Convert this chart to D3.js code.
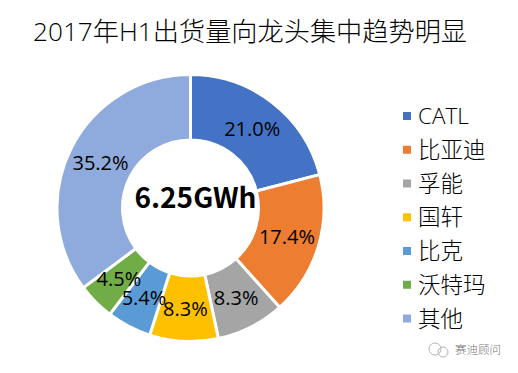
<!DOCTYPE html>
<html lang="zh">
<head>
<meta charset="UTF-8">
<title>2017年H1出货量向龙头集中趋势明显</title>
<script src="https://d3js.org/d3.v7.min.js"></script>
<style>
    body { margin: 0; background: #fff; overflow: hidden; }
    text { font-family: "Open Sans", "Noto Sans CJK SC", sans-serif; font-weight: 300; fill: #000; }
</style>
</head>
<body>
<svg id="chart" width="518" height="373"></svg>
<script>
const chartTitle = "2017年H1出货量向龙头集中趋势明显";
const centerLabel = "6.25GWh";
const categories = ["CATL", "比亚迪", "孚能", "国轩", "比克", "沃特玛", "其他"];
const shares = [21.0, 17.4, 8.3, 8.3, 5.4, 4.5, 35.2];
const colors = ["#4472c4", "#ed7d31", "#a5a5a5", "#ffc000", "#5b9bd5", "#70ad47", "#8faadc"];

const svg = d3.select("#chart");
const cx = 190.5, cy = 208, outer = 133.5, inner = 68;

svg.append("text")
    .attr("x", 33).attr("y", 41)
    .style("font-size", "26.2px")
    .text(chartTitle);

const pie = d3.pie().sort(null).value(d => d)(shares);
const arc = d3.arc().innerRadius(inner).outerRadius(outer);

const ring = svg.append("g").attr("transform", `translate(${cx},${cy})`);

ring.selectAll("path")
    .data(pie)
    .enter().append("path")
    .attr("d", arc)
    .attr("fill", (d, i) => colors[i])
    .attr("stroke", "#fff")
    .attr("stroke-width", 3);

ring.selectAll("text")
    .data(pie)
    .enter().append("text")
    .attr("transform", d => `translate(${arc.centroid(d)})`)
    .attr("text-anchor", "middle")
    .attr("dy", "0.36em")
    .style("font-size", "20px")
    .style("font-weight", "400")
    .text(d => d.value.toFixed(1) + "%");

svg.append("text")
    .attr("x", cx + 5).attr("y", 208)
    .attr("text-anchor", "middle")
    .style("font-family", '"Noto Sans CJK SC", sans-serif')
    .style("font-size", "28px")
    .style("font-weight", "700")
    .text(centerLabel);

// legend
const legendY = d3.scalePoint().domain(categories).range([116, 318.5]);

const legend = svg.selectAll(".legend-item")
    .data(categories)
    .enter().append("g")
    .attr("class", "legend-item")
    .attr("transform", d => `translate(403,${legendY(d)})`);

legend.append("rect")
    .attr("y", -4).attr("width", 8).attr("height", 8)
    .attr("fill", (d, i) => colors[i]);

legend.append("text")
    .attr("x", 15).attr("dy", "0.36em")
    .style("font-size", "22.5px")
    .text(d => d);

// watermark
const mark = svg.append("g").attr("fill", "none").attr("stroke", "#b4b4b4").attr("stroke-width", 1);
mark.append("circle").attr("cx", 435).attr("cy", 349).attr("r", 6);
mark.append("circle").attr("cx", 443).attr("cy", 352).attr("r", 5);

svg.append("text")
    .attr("x", 455).attr("y", 354)
    .style("font-size", "11.5px")
    .style("fill", "#777")
    .text("赛迪顾问");
</script>
</body>
</html>
